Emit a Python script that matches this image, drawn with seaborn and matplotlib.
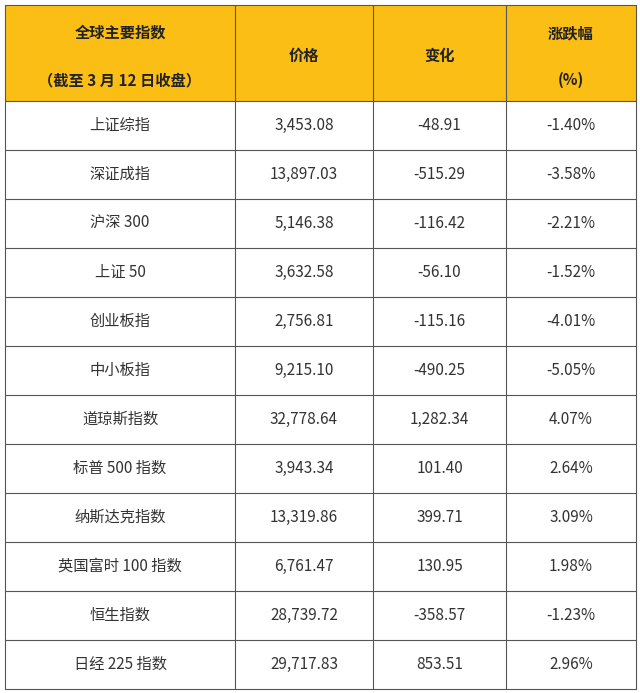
import matplotlib
matplotlib.use('Agg')
import matplotlib.pyplot as plt
import seaborn as sns
from matplotlib.patches import Rectangle

sns.set_theme(style='white')
plt.rcParams['font.family'] = ['Noto Sans CJK SC', 'DejaVu Sans']

names = ['上证综指', '深证成指', '沪深 300', '上证 50', '创业板指', '中小板指',
         '道琼斯指数', '标普 500 指数', '纳斯达克指数', '英国富时 100 指数', '恒生指数', '日经 225 指数']
prices = ['3,453.08', '13,897.03', '5,146.38', '3,632.58', '2,756.81', '9,215.10',
          '32,778.64', '3,943.34', '13,319.86', '6,761.47', '28,739.72', '29,717.83']
changes = ['-48.91', '-515.29', '-116.42', '-56.10', '-115.16', '-490.25',
           '1,282.34', '101.40', '399.71', '130.95', '-358.57', '853.51']
pcts = ['-1.40%', '-3.58%', '-2.21%', '-1.52%', '-4.01%', '-5.05%',
        '4.07%', '2.64%', '3.09%', '1.98%', '-1.23%', '2.96%']

col_x = [5, 235, 373, 506, 636]
header_top, header_bot = 5, 101
row_h = (689 - header_bot) / len(names)
header_color = '#FBBE15'
line_color = '#555555'
text_color = '#333333'

fig = plt.figure(figsize=(6.4, 6.93), dpi=100)
ax = fig.add_axes([0, 0, 1, 1])
ax.set_xlim(0, 640)
ax.set_ylim(693, 0)
ax.axis('off')

ax.add_patch(Rectangle((col_x[0], header_top), col_x[-1] - col_x[0], header_bot - header_top,
                       facecolor=header_color, edgecolor='none'))

# grid lines
bottom = header_bot + row_h * len(names)
for x in col_x:
    ax.plot([x, x], [header_top, bottom], color=line_color, lw=0.8)
ax.plot([col_x[0], col_x[-1]], [header_top, header_top], color=line_color, lw=0.8)
for i in range(len(names) + 1):
    y = header_bot + i * row_h
    ax.plot([col_x[0], col_x[-1]], [y, y], color=line_color, lw=0.8)

centers = [(col_x[i] + col_x[i + 1]) / 2 for i in range(4)]
hkw = dict(ha='center', va='center', fontsize=11, fontweight='bold', color='#222222')
ax.text(centers[0], 33, '全球主要指数', **hkw)
ax.text(centers[0], 80, '（截至 3 月 12 日收盘）', **hkw)
ax.text(centers[1], 56, '价格', **hkw)
ax.text(centers[2], 56, '变化', **hkw)
ax.text(centers[3], 33, '涨跌幅', **hkw)
ax.text(centers[3], 80, '(%)', **hkw)

for i, row in enumerate(zip(names, prices, changes, pcts)):
    y = header_bot + (i + 0.5) * row_h
    for c, val in enumerate(row):
        ax.text(centers[c], y, val, ha='center', va='center', fontsize=11, color=text_color)

fig.savefig('out.png', dpi=100)
